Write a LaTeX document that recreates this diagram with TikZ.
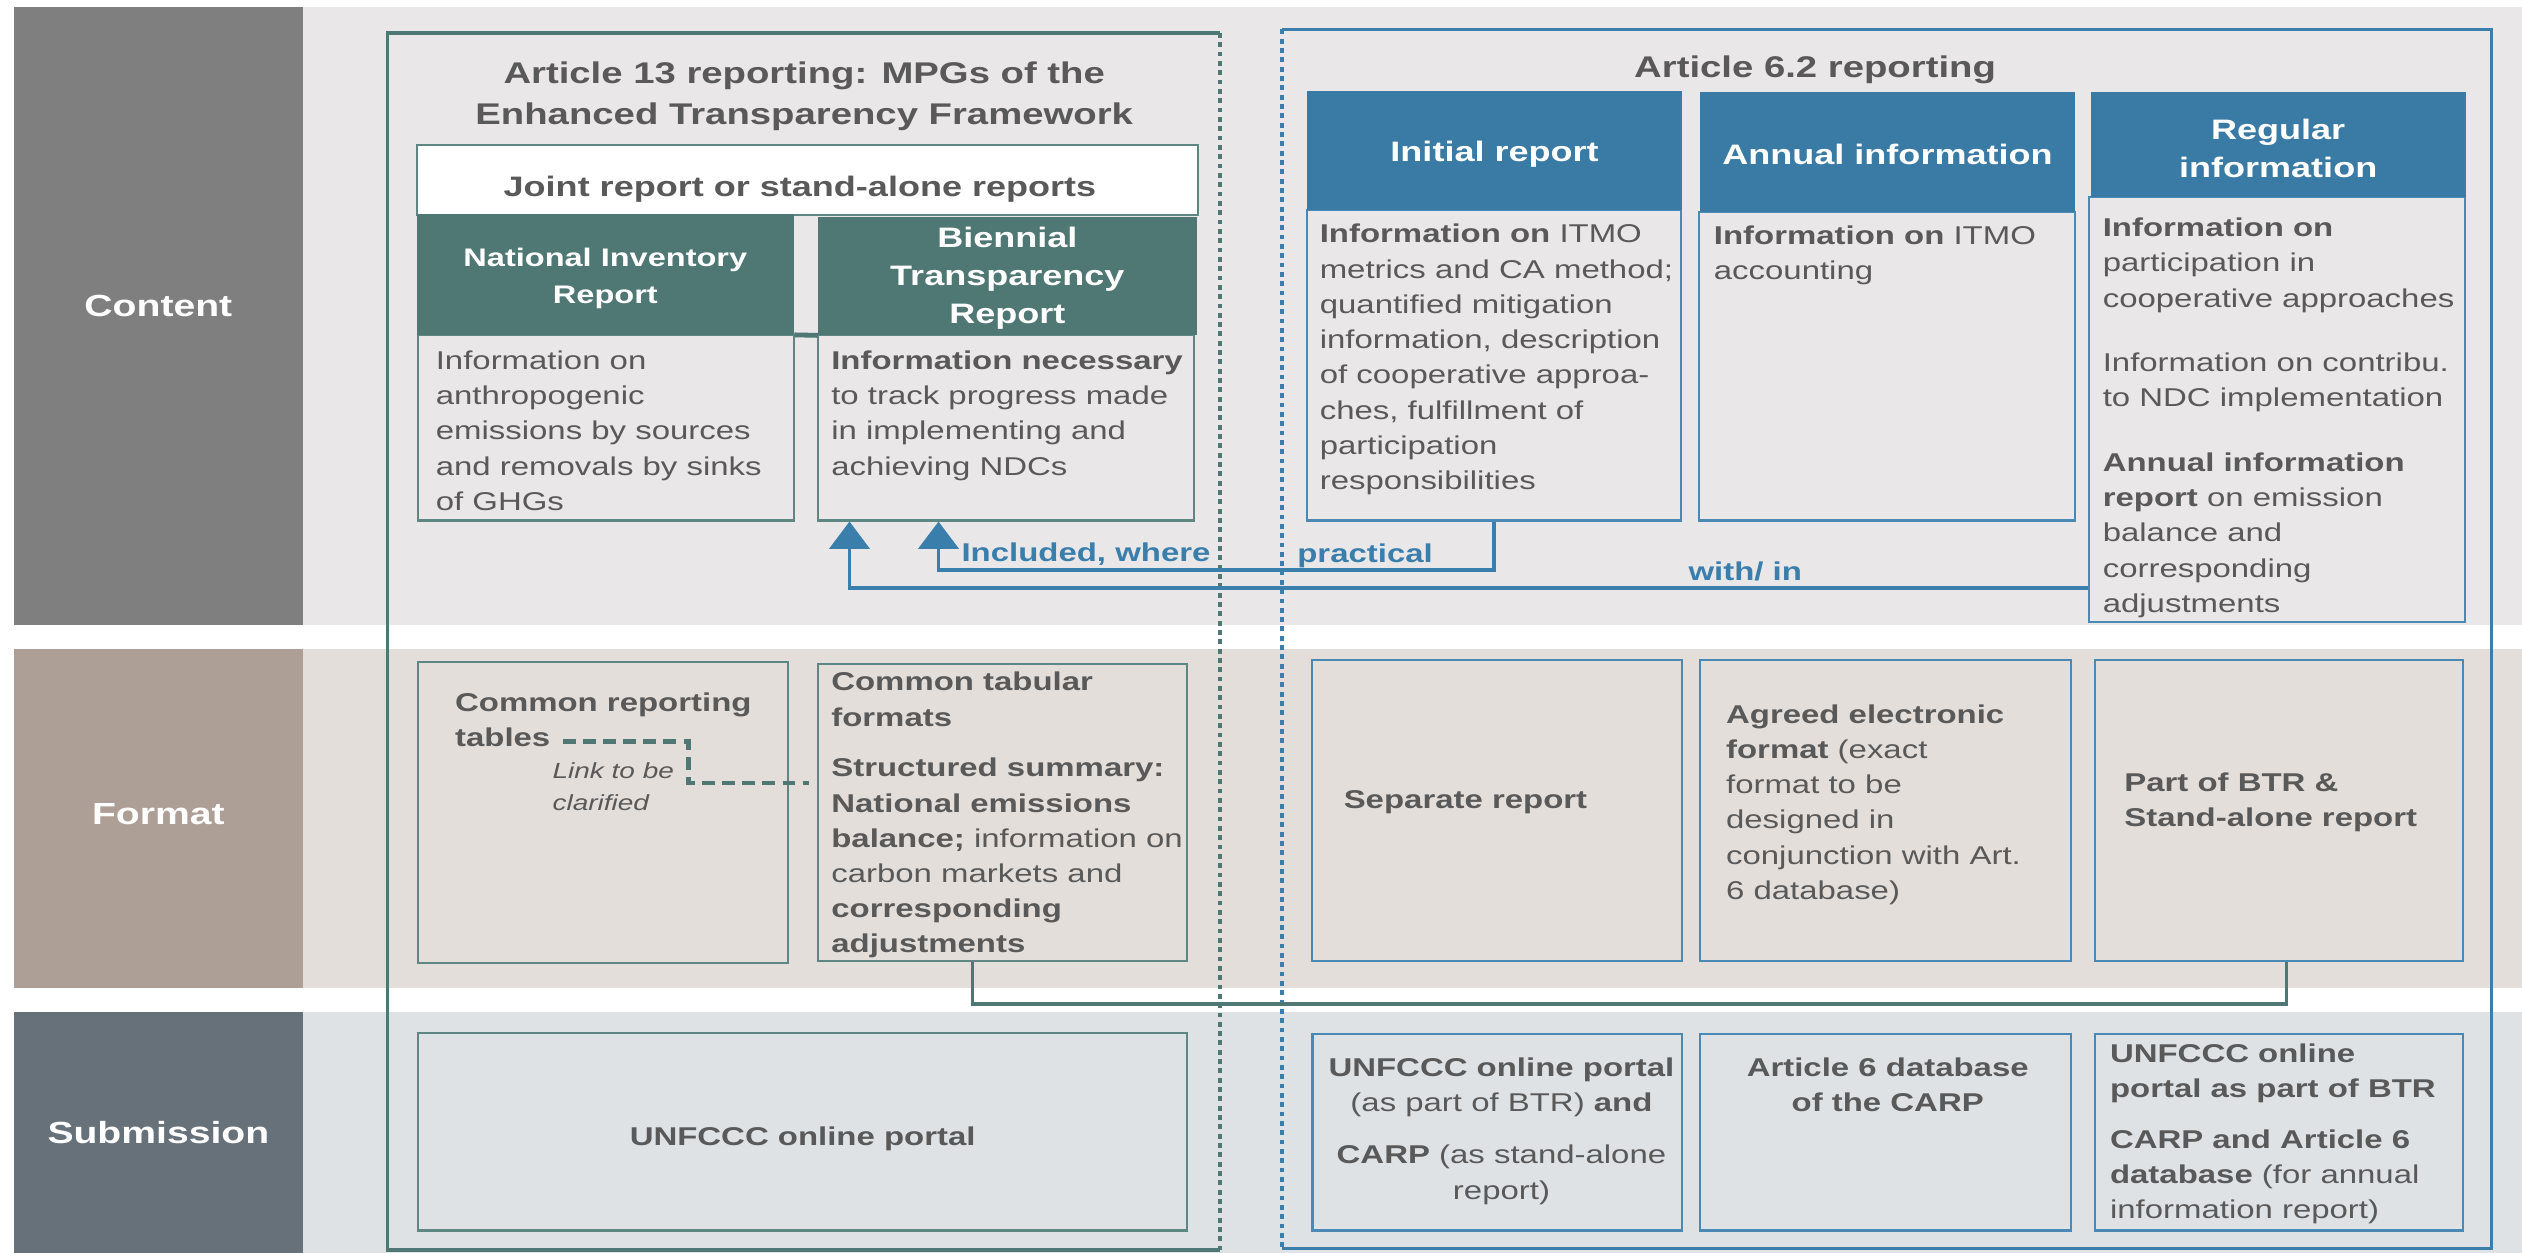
\documentclass[tikz,border=0pt]{standalone}
\usepackage{fontspec}
\setmainfont{Liberation Sans}[FakeStretch=1.28]
\usetikzlibrary{arrows.meta,fit}

\definecolor{rowgray}{HTML}{7F7F7F}
\definecolor{rowtaupe}{HTML}{AD9E96}
\definecolor{rowslate}{HTML}{66717A}
\definecolor{bandgray}{HTML}{E9E7E8}
\definecolor{bandtaupe}{HTML}{E3DEDA}
\definecolor{bandslate}{HTML}{DFE2E5}
\definecolor{mpgteal}{HTML}{4F7773}
\definecolor{boxteal}{HTML}{5E8682}
\definecolor{artblue}{HTML}{3A7BA5}
\definecolor{boxblue}{HTML}{4A89B3}
\definecolor{lineblue}{HTML}{3A7EAC}
\definecolor{txtgray}{HTML}{595959}

\newcommand{\txtbody}{\fontsize{16}{21.9}\selectfont}
\newcommand{\txthead}{\fontsize{17.5}{23.5}\selectfont\bfseries}
\newcommand{\txttitle}{\fontsize{18.6}{25.4}\selectfont\bfseries}
\newcommand{\txtrow}{\fontsize{19}{23}\selectfont\bfseries}
\newcommand{\txtnote}{\fontsize{13.6}{19.6}\selectfont\itshape}

\tikzset{
  rowbox/.style={inner sep=0pt},
  rowtxt/.style={inner sep=0pt, text=white, font=\txtrow},
  titletxt/.style={inner sep=0pt, align=center, text=txtgray, font=\txttitle},
  tealbox/.style={draw=boxteal, line width=1.3pt, inner sep=0pt},
  bluebox/.style={draw=boxblue, line width=1.3pt, inner sep=0pt},
  tealhead/.style={fill=mpgteal, inner sep=0pt},
  bluehead/.style={fill=artblue, inner sep=0pt},
  headtxt/.style={inner sep=0pt, align=center, text=white, font=\txthead},
  bodytxt/.style={anchor=north west, inner sep=0pt, align=left, text=txtgray, font=\txtbody},
  boldtxt/.style={bodytxt, font=\txtbody\bfseries},
  notetxt/.style={bodytxt, font=\txtnote},
  arrowtxt/.style={anchor=base west, inner sep=0pt, text=lineblue, font=\txtbody\bfseries},
  tealframe/.style={draw=mpgteal, line width=2.2pt},
  blueframe/.style={draw=lineblue, line width=2pt},
  tealdots/.style={draw=mpgteal, line width=3pt, dash pattern=on 3pt off 2.8pt},
  bluedots/.style={draw=lineblue, line width=3pt, dash pattern=on 3pt off 2.8pt},
  bluearrow/.style={draw=lineblue, line width=2.2pt, -{Triangle[width=25pt,length=17pt]}},
  tealline/.style={draw=mpgteal, line width=2pt},
  linkdash/.style={draw=mpgteal, line width=2.6pt, dash pattern=on 8pt off 4.5pt},
}

\begin{document}
\begin{tikzpicture}[x=1pt, y=-1pt]
		\useasboundingbox (0,0) rectangle (1568,779);
		\fill[white] (0,0) rectangle (1568,779);
		% row bands
		\fill[bandgray] (188.4,4.3) rectangle (1568,388.3);
		\fill[bandtaupe] (188.4,403.5) rectangle (1568,614.3);
		\fill[bandslate] (188.4,629.4) rectangle (1568,779);
		\node[rowbox, fill=rowgray, fit={(8.5,4.3) (188.4,388.3)}] (contentrow) {};
		\node[rowbox, fill=rowtaupe, fit={(8.5,403.5) (188.4,614.3)}] (formatrow) {};
		\node[rowbox, fill=rowslate, fit={(8.5,629.4) (188.4,779)}] (submitrow) {};
		\node[rowtxt] (contentlbl) at ([yshift=6pt]contentrow.center) {Content};
		\node[rowtxt] (formatlbl) at ([yshift=3pt]formatrow.center) {Format};
		\node[rowtxt] (submitlbl) at (submitrow.center) {Submission};
		% frames
		\draw[tealdots] (758.5,20.5) -- (758.5,777);
		\draw[tealframe] (758.5,20.5) -- (241,20.5) -- (241,777) -- (758.5,777);
		\draw[bluedots] (797,18.3) -- (797,776);
		\draw[blueframe] (797,18.3) -- (1549,18.3) -- (1549,776) -- (797,776);
		\node[titletxt] (mpgtitle) at (500,60) {Article 13 reporting: MPGs of the\\Enhanced Transparency Framework};
		\node[titletxt] (arttitle) at (1128.5,43.6) {Article 6.2 reporting};
		% content, article 13
		\node[tealbox, fill=white, fit={(259,90.1) (744.7,133.5)}] (jointbox) {};
		\node[titletxt, font=\txthead] (jointtxt) at ([shift={(-4.5,5.9)}]jointbox.center) {Joint report or stand-alone reports};
		\node[tealbox, fit={(259.7,208) (493.7,323.6)}] (nirbody) {};
		\node[tealbox, fit={(508.8,208.3) (742.2,323.6)}] (btrbody) {};
		\node[tealhead, fit={(259,133.2) (493.7,208)}] (nirhead) {};
		\node[tealhead, fit={(508.6,134.7) (744,208.3)}] (btrhead) {};
		\draw[mpgteal, line width=3pt] (nirhead.south east) -- (btrhead.south west);
		\node[headtxt, font=\fontsize{15.8}{22.7}\selectfont\bfseries] (nirheadtxt) at ([yshift=-2.5pt]nirhead.center) {National Inventory\\Report};
		\node[headtxt] (btrheadtxt) at ([yshift=-1.5pt]btrhead.center) {Biennial\\Transparency\\Report};
		\node[bodytxt] (nirtxt) at ([shift={(11.7,10.6)}]nirbody.north west) {Information on\\anthropogenic\\emissions by sources\\and removals by sinks\\of GHGs};
		\node[bodytxt] (btrtxt) at ([shift={(8.5,10.3)}]btrbody.north west) {\textbf{Information necessary}\\to track progress made\\in implementing and\\achieving NDCs};
		% content, article 6.2
		\node[bluebox, fit={(812.5,130.7) (1045,323.6)}] (initbody) {};
		\node[bluebox, fit={(1056.5,131.9) (1290,323.6)}] (annbody) {};
		\node[bluebox, fit={(1299,122.3) (1532.6,386.5)}] (regbody) {};
		\node[bluehead, fit={(812.4,56.3) (1046,130.7)}] (inithead) {};
		\node[bluehead, fit={(1057,57) (1290,131.9)}] (annhead) {};
		\node[bluehead, fit={(1299.8,57) (1533,122.3)}] (reghead) {};
		\node[headtxt] (initheadtxt) at ([yshift=-2.5pt]inithead.center) {Initial report};
		\node[headtxt] (annheadtxt) at ([yshift=-1.5pt]annhead.center) {Annual information};
		\node[headtxt] (regheadtxt) at ([yshift=-2.5pt]reghead.center) {Regular\\information};
		\node[bodytxt] (inittxt) at ([shift={(8.5,9.2)}]initbody.north west) {\textbf{Information on} ITMO\\metrics and CA method;\\quantified mitigation\\information, description\\of cooperative approa-\\ches, fulfillment of\\participation\\responsibilities};
		\node[bodytxt] (anntxt) at ([shift={(9.5,9.1)}]annbody.north west) {\textbf{Information on} ITMO\\accounting};
		\node[bodytxt] (regtxt) at ([shift={(8.8,13.7)}]regbody.north west) {\textbf{Information on}\\participation in\\cooperative approaches\\[18.1pt]Information on contribu.\\to NDC implementation\\[18.4pt]\textbf{Annual information}\\\textbf{report} on emission\\balance and\\corresponding\\adjustments};
		% included arrows
		\draw[bluearrow] (initbody.south) -- ++(0,30) -| ([xshift=-42pt]btrbody.south);
		\draw[bluearrow] ([yshift=21.7pt]regbody.south west) -| ([xshift=20pt]btrbody.south west);
		\node[arrowtxt] (inclleft) at (597.6,349) {Included, where};
		\node[arrowtxt] (inclright) at (806.4,349.8) {practical};
		\node[arrowtxt] (withtxt) at (1049.6,360.6) {with/ in};
		% format
		\node[tealbox, fit={(259.9,411.8) (489.8,598.9)}] (crtfmt) {};
		\node[tealbox, fit={(508.8,413) (738.2,597.5)}] (btrfmt) {};
		\node[bluebox, fit={(815.9,410.6) (1046,597.5)}] (sepfmt) {};
		\node[bluebox, fit={(1057,410.6) (1287.3,597.5)}] (agrfmt) {};
		\node[bluebox, fit={(1302.3,410.6) (1531.4,597.5)}] (partfmt) {};
		\node[boldtxt] (crttxt) at ([shift={(23.5,19.2)}]crtfmt.north west) {Common reporting\\tables};
		\node[notetxt] (linktxt) at ([shift={(84.1,63)}]crtfmt.north west) {Link to be\\clarified};
		\coordinate (crtend) at (350,461);
		\coordinate (linkbend) at (428,487);
		\draw[linkdash, shorten >=5pt] (crtend) -| (linkbend) -- (btrfmt.west |- linkbend);
		\node[bodytxt] (btrfmttxt) at ([shift={(8.5,5.4)}]btrfmt.north west) {\textbf{Common tabular}\\\textbf{formats}\\[9.6pt]\textbf{Structured summary:}\\\textbf{National emissions}\\\textbf{balance;} information on\\carbon markets and\\\textbf{corresponding}\\\textbf{adjustments}};
		\node[boldtxt, anchor=west] (septxt) at ([shift={(20,-5.6)}]sepfmt.west) {Separate report};
		\node[bodytxt] (agrtxt) at ([shift={(16.6,27.9)}]agrfmt.north west) {\textbf{Agreed electronic}\\\textbf{format} (exact\\format to be\\designed in\\conjunction with Art.\\6 database)};
		\node[boldtxt] (parttxt) at ([shift={(18.9,70.5)}]partfmt.north west) {Part of BTR \&\\Stand-alone report};
		\draw[tealline] ([xshift=-19pt]btrfmt.south) -- ++(0,26) -| ([xshift=4.5pt]partfmt.south);
		% submission
		\node[tealbox, fit={(259.9,642) (738.2,765)}] (portalsub) {};
		\node[bluebox, fit={(816,642.8) (1046,765)}] (initsub) {};
		\node[bluebox, fit={(1057,642.8) (1287.3,765)}] (annsub) {};
		\node[bluebox, fit={(1302.3,642.8) (1531.4,765)}] (regsub) {};
		\node[boldtxt, anchor=center] (portaltxt) at ([yshift=-4.5pt]portalsub.center) {UNFCCC online portal};
		\node[bodytxt, anchor=north, align=center] (initsubtxt) at ([shift={(2.5,15.2)}]initsub.north) {\textbf{UNFCCC online portal}\\(as part of BTR) \textbf{and}\\[10.7pt]\textbf{CARP} (as stand-alone\\report)};
		\node[boldtxt, anchor=north, align=center] (annsubtxt) at ([shift={(1.5,15.2)}]annsub.north) {Article 6 database\\of the CARP};
		\node[bodytxt] (regsubtxt) at ([shift={(10,6.5)}]regsub.north west) {\textbf{UNFCCC online}\\\textbf{portal as part of BTR}\\[9.6pt]\textbf{CARP and Article 6}\\\textbf{database} (for annual\\information report)};
\end{tikzpicture}
\end{document}
